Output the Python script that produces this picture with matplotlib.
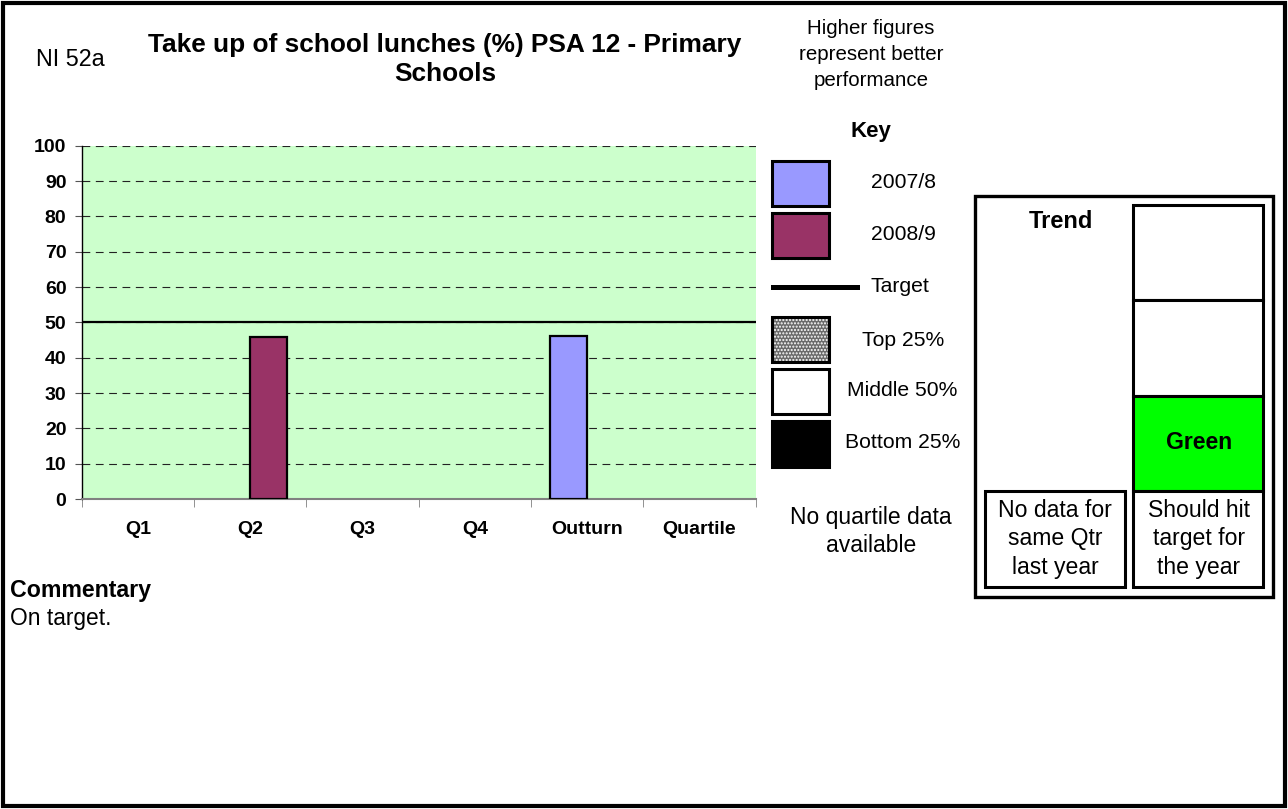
import matplotlib
matplotlib.use('Agg')
import matplotlib.pyplot as plt
from matplotlib.patches import Rectangle
from matplotlib.lines import Line2D
import numpy as np

plt.rcParams['font.family'] = ['Liberation Sans', 'DejaVu Sans']

# ---- data ----
categories = ['Q1', 'Q2', 'Q3', 'Q4', 'Outturn', 'Quartile']
series_2007 = [np.nan, np.nan, np.nan, np.nan, 46.0, np.nan]
series_2008 = [np.nan, 45.8, np.nan, np.nan, np.nan, np.nan]
target = 50
y_ticks = list(range(0, 101, 10))
key_labels = ['2007/8', '2008/9', 'Target', 'Top 25%', 'Middle 50%', 'Bottom 25%']

W, H = 1288, 809
fig = plt.figure(figsize=(W / 100, H / 100), dpi=100)


def fx(x):
    return x / W


def fy(y):
    return 1 - y / H


def rect(x0, y0, x1, y1, **kw):
    r = Rectangle((fx(x0), fy(y1)), (x1 - x0) / W, (y1 - y0) / H,
                  transform=fig.transFigure, **kw)
    fig.add_artist(r)
    return r


def text(x, y, s, **kw):
    kw.setdefault('ha', 'center')
    kw.setdefault('va', 'center')
    fig.text(fx(x), fy(y), s, **kw)


# ---- main chart ----
ax = fig.add_axes([fx(81.7), fy(499), (755.7 - 81.7) / W, (499 - 145.7) / H])
ax.set_facecolor('#ccffcc')
x = np.arange(len(categories))
bw = 0.33
ax.bar(x - bw / 2, series_2007, bw, color='#9999ff', edgecolor='black', linewidth=1.6, zorder=3)
ax.bar(x + bw / 2, series_2008, bw, color='#993366', edgecolor='black', linewidth=1.6, zorder=3)
ax.axhline(target, color='black', lw=1.6, zorder=4)
ax.set_xlim(-0.5, len(categories) - 0.5)
ax.set_ylim(0, 100)
ax.set_yticks(y_ticks)
ax.set_yticklabels([str(v) for v in y_ticks], fontweight='bold', fontsize=14)
ax.yaxis.grid(True, linestyle=(0, (7, 5)), color='#222222', lw=0.8)
ax.set_axisbelow(True)
ax.tick_params(axis='y', length=5, color='#555555', pad=6)
ax.set_xticks(x)
ax.set_xticklabels(categories, fontweight='bold', fontsize=14)
ax.set_xticks(np.arange(-0.5, len(categories)), minor=True)
ax.tick_params(axis='x', which='major', length=0, pad=16)
ax.tick_params(axis='x', which='minor', length=6, color='#808080')
for s in ['top', 'right']:
    ax.spines[s].set_visible(False)
ax.spines['left'].set_color('black')
ax.spines['left'].set_linewidth(1)
ax.spines['bottom'].set_color('#808080')
ax.spines['bottom'].set_linewidth(1.5)

# ---- header texts ----
text(70, 60, 'NI 52a', fontsize=16.8)
text(445, 59.5, 'Take up of school lunches (%) PSA 12 - Primary\nSchools',
     fontsize=18.9, fontweight='bold', linespacing=1.3)
text(871, 54.5, 'Higher figures\nrepresent better\nperformance', fontsize=14.8, linespacing=1.5)

# ---- key ----
text(871, 131, 'Key', fontsize=16, fontweight='bold')
lw_box = 2.2
rect(772, 161, 829, 206, facecolor='#9999ff', edgecolor='black', lw=lw_box)
rect(772, 213, 829, 258, facecolor='#993366', edgecolor='black', lw=lw_box)
fig.add_artist(Line2D([fx(773), fx(857)], [fy(287), fy(287)], color='black', lw=3.6,
                      transform=fig.transFigure))
rect(772, 317, 829, 362, facecolor='#6a6a6a', edgecolor='white', hatch='.....', lw=0)
rect(772, 317, 829, 362, facecolor='none', edgecolor='black', lw=lw_box)
rect(772, 369, 829, 414, facecolor='white', edgecolor='black', lw=lw_box)
rect(772, 421, 829, 467, facecolor='black', edgecolor='black', lw=lw_box)
key_pos = [(903, 183), (903, 235), (900, 287), (903, 340), (902, 391), (903, 443)]
for (kx, ky), lab in zip(key_pos, key_labels):
    text(kx, ky, lab, fontsize=15.2)
text(871, 531.5, 'No quartile data\navailable', fontsize=16.5, linespacing=1.27)

# ---- trend box ----
rect(975, 196, 1273, 597, facecolor='none', edgecolor='black', lw=2.4)
text(1061, 222, 'Trend', fontsize=17, fontweight='bold')
rect(1133, 205, 1263, 300, facecolor='white', edgecolor='black', lw=2.2)
rect(1133, 300, 1263, 396, facecolor='white', edgecolor='black', lw=2.2)
rect(1133, 396, 1263, 491, facecolor='#00ff00', edgecolor='black', lw=2.2)
rect(1133, 491, 1263, 587, facecolor='white', edgecolor='black', lw=2.2)
rect(985, 491, 1125, 587, facecolor='white', edgecolor='black', lw=2.2)
text(1199, 443, 'Green', fontsize=16.6, fontweight='bold')
text(1055, 539, 'No data for\nsame Qtr\nlast year', fontsize=16.6, linespacing=1.31)
text(1199, 539, 'Should hit\ntarget for\nthe year', fontsize=16.6, linespacing=1.31)

# ---- commentary ----
text(10, 590, 'Commentary', fontsize=16.7, fontweight='bold', ha='left')
text(10, 618, 'On target.', fontsize=16.4, ha='left')

# ---- figure border ----
rect(3, 3, 1285, 806, facecolor='none', edgecolor='black', lw=3)

fig.savefig('out.png', dpi=100)
